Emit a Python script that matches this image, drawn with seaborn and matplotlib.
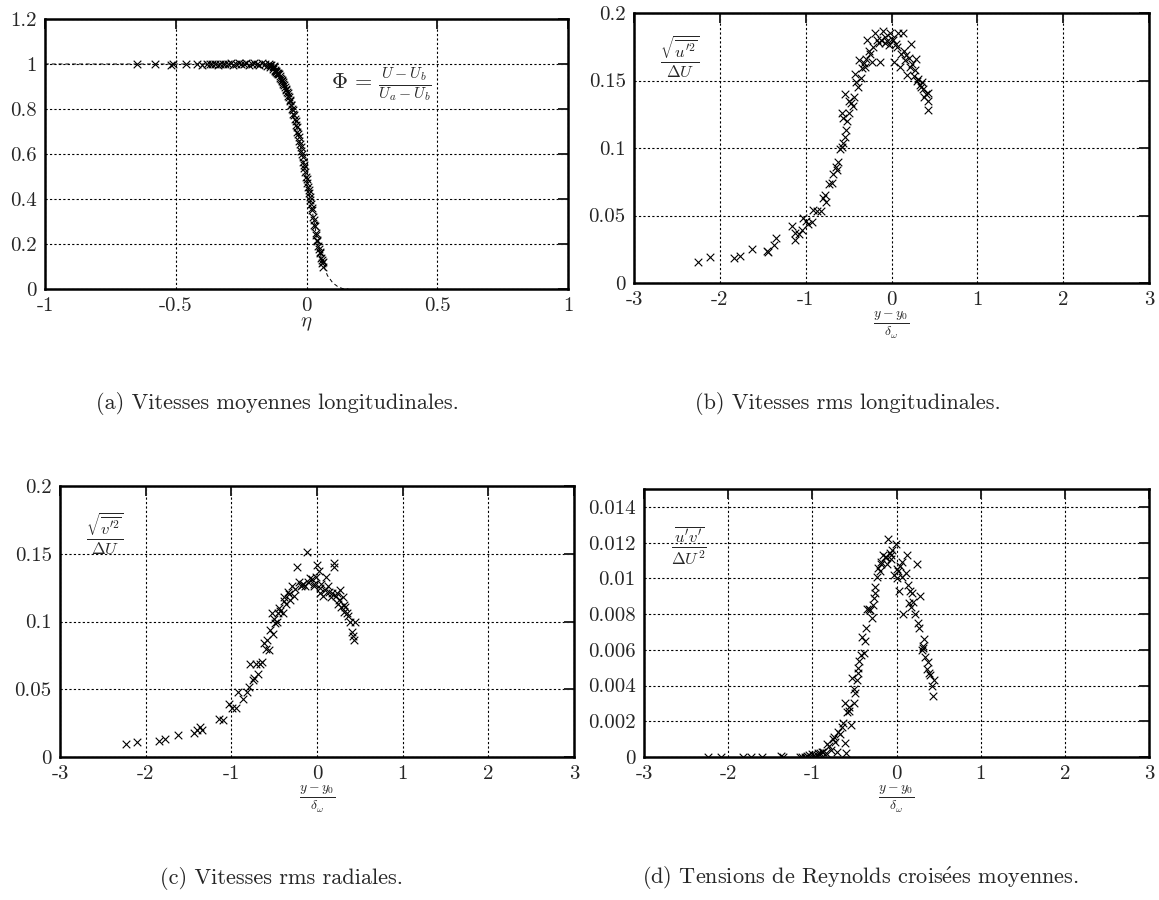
import numpy as np
import pandas as pd
import matplotlib
matplotlib.use("Agg")
import matplotlib.pyplot as plt
import seaborn as sns

sns.set_style("white")
plt.rcParams['font.family'] = ['cmr10', 'DejaVu Serif']
plt.rcParams['mathtext.fontset'] = 'cm'
plt.rcParams['axes.unicode_minus'] = False

# ---------------- data ----------------
# (a) mean longitudinal velocity
eta_pts = [-0.65, -0.58, -0.52, -0.51, -0.46, -0.42, -0.40, -0.38, -0.37, -0.36,
           -0.35, -0.34, -0.33, -0.32, -0.31, -0.30, -0.29, -0.28, -0.27, -0.26,
           -0.25, -0.24, -0.23, -0.22, -0.21, -0.20, -0.19, -0.18, -0.17, -0.16,
           -0.15, -0.145, -0.14, -0.135, -0.13, -0.125,
           -0.12, -0.115, -0.11, -0.105, -0.10, -0.095, -0.09, -0.085, -0.08, -0.075,
           -0.07, -0.065, -0.06, -0.055, -0.05, -0.045, -0.04, -0.035, -0.03, -0.025,
           -0.02, -0.015, -0.01, -0.005, 0.0, 0.005, 0.01, 0.015, 0.02, 0.025,
           0.03, 0.035, 0.04, 0.045, 0.05, 0.055, 0.06, 0.065,
           -0.125, -0.118, -0.108, -0.098, -0.088, -0.078, -0.068, -0.058, -0.048, -0.038,
           -0.028, -0.018, -0.008, 0.002, 0.012, 0.022, 0.032, 0.042, 0.052, 0.062,
           -0.14, -0.13, -0.12, -0.112, -0.102, -0.092, -0.082, -0.072, -0.062, -0.052,
           -0.042, -0.032, -0.022, -0.012, -0.002, 0.008, 0.018, 0.028, 0.038, 0.048, 0.058]
phi_pts = [1.0, 1.0, 0.995, 1.0, 1.0, 1.0, 0.995, 1.0, 1.0, 0.998,
           1.0, 0.995, 1.0, 1.0, 0.998, 1.0, 1.005, 0.995, 1.0, 1.005,
           0.998, 1.0, 1.005, 0.995, 1.0, 1.005, 1.0, 0.995, 1.005, 0.998,
           0.99, 1.0, 0.985, 0.995, 0.98, 0.99,
           0.975, 0.965, 0.96, 0.955, 0.94, 0.93, 0.92, 0.905, 0.89, 0.875,
           0.86, 0.84, 0.82, 0.80, 0.78, 0.755, 0.73, 0.70, 0.675, 0.645,
           0.615, 0.585, 0.55, 0.52, 0.49, 0.455, 0.425, 0.395, 0.36, 0.32,
           0.285, 0.25, 0.22, 0.19, 0.165, 0.14, 0.115, 0.10,
           0.985, 0.97, 0.955, 0.935, 0.91, 0.885, 0.855, 0.82, 0.775, 0.72,
           0.66, 0.60, 0.54, 0.47, 0.41, 0.35, 0.28, 0.215, 0.16, 0.12,
           0.995, 0.985, 0.97, 0.96, 0.945, 0.925, 0.90, 0.87, 0.835, 0.795,
           0.745, 0.69, 0.63, 0.565, 0.50, 0.44, 0.38, 0.305, 0.24, 0.18, 0.13]
eta_fit = [-1.0, -0.5, -0.25, -0.2, -0.15, -0.12, -0.10, -0.08, -0.06, -0.04, -0.02,
           0.0, 0.02, 0.04, 0.06, 0.08, 0.10, 0.12, 0.14, 0.16]
phi_fit = [1.0, 1.0, 1.0, 0.998, 0.99, 0.975, 0.945, 0.90, 0.83, 0.735, 0.615,
           0.49, 0.36, 0.225, 0.12, 0.06, 0.028, 0.01, 0.001, 0.0]

# (b) rms longitudinal
xb = [-2.26, -2.12, -1.84, -1.77, -1.63, -1.45, -1.44, -1.37, -1.34, -1.16,
      -1.13, -1.12, -1.08, -1.04, -1.03, -1.00, -0.97, -0.93, -0.91, -0.87,
      -0.82, -0.80, -0.78, -0.76, -0.73, -0.69, -0.68, -0.65, -0.63, -0.60,
      -0.58, -0.58, -0.56, -0.54, -0.53, -0.54, -0.52, -0.50, -0.47, -0.45,
      -0.43, -0.41, -0.39, -0.38, -0.34, -0.32, -0.30, -0.28, -0.26, -0.23,
      -0.21, -0.19, -0.17, -0.135, -0.10, -0.08, -0.05, -0.02, 0.0, 0.03,
      0.05, 0.08, 0.10, 0.13, 0.14, 0.17, 0.18, 0.20, 0.23, 0.24,
      0.27, 0.29, 0.31, 0.33, 0.35, 0.37, 0.40, 0.42, 0.43, 0.42,
      -0.62, -0.57, -0.49, -0.44, -0.36, -0.31, -0.25, -0.15, -0.12, -0.07,
      -0.03, 0.02, 0.06, 0.11, 0.16, 0.21, 0.26, 0.30, 0.34, 0.38]
yb = [0.0155, 0.019, 0.0185, 0.020, 0.025, 0.024, 0.023, 0.028, 0.033, 0.042,
      0.037, 0.032, 0.036, 0.039, 0.048, 0.046, 0.044, 0.045, 0.054, 0.053,
      0.053, 0.063, 0.065, 0.060, 0.073, 0.074, 0.081, 0.086, 0.084, 0.099,
      0.101, 0.126, 0.122, 0.108, 0.113, 0.140, 0.120, 0.135, 0.133, 0.131,
      0.155, 0.149, 0.145, 0.165, 0.159, 0.163, 0.166, 0.180, 0.172, 0.164,
      0.175, 0.185, 0.180, 0.164, 0.187, 0.182, 0.179, 0.185, 0.181, 0.164,
      0.177, 0.185, 0.160, 0.185, 0.172, 0.169, 0.154, 0.167, 0.177, 0.162,
      0.158, 0.166, 0.151, 0.147, 0.149, 0.144, 0.140, 0.135, 0.141, 0.128,
      0.090, 0.104, 0.126, 0.138, 0.152, 0.160, 0.170, 0.178, 0.180, 0.178,
      0.176, 0.180, 0.175, 0.170, 0.165, 0.160, 0.153, 0.150, 0.145, 0.138]

# (c) rms radial
xc = [-2.23, -2.10, -1.84, -1.77, -1.62, -1.44, -1.40, -1.36, -1.34, -1.14,
      -1.10, -1.03, -0.99, -0.95, -0.92, -0.86, -0.82, -0.79, -0.785, -0.75,
      -0.73, -0.71, -0.69, -0.66, -0.64, -0.62, -0.60, -0.58, -0.56, -0.53,
      -0.51, -0.49, -0.47, -0.45, -0.43, -0.40, -0.38, -0.36, -0.34, -0.32,
      -0.29, -0.27, -0.23, -0.21, -0.19, -0.16, -0.12, -0.10, -0.08, -0.06,
      -0.03, -0.01, 0.0, 0.02, 0.03, 0.05, 0.07, 0.11, 0.14, 0.16,
      0.195, 0.20, 0.23, 0.25, 0.27, 0.28, 0.30, 0.31, 0.33, 0.36,
      0.38, 0.41, 0.42, 0.43, 0.44,
      -0.55, -0.50, -0.44, -0.39, -0.33, -0.26, -0.18, -0.14, -0.04, 0.04,
      0.09, 0.13, 0.18, 0.22, 0.26, 0.32, 0.35]
yc = [0.0099, 0.011, 0.012, 0.0135, 0.016, 0.018, 0.020, 0.022, 0.020, 0.028,
      0.027, 0.039, 0.036, 0.036, 0.048, 0.043, 0.048, 0.052, 0.069, 0.057,
      0.058, 0.069, 0.061, 0.069, 0.070, 0.084, 0.080, 0.086, 0.079, 0.106,
      0.091, 0.099, 0.100, 0.106, 0.108, 0.106, 0.118, 0.113, 0.122, 0.116,
      0.126, 0.119, 0.140, 0.129, 0.126, 0.128, 0.151, 0.129, 0.132, 0.131,
      0.126, 0.133, 0.142, 0.137, 0.121, 0.128, 0.119, 0.133, 0.122, 0.118,
      0.143, 0.140, 0.121, 0.113, 0.123, 0.111, 0.118, 0.107, 0.111, 0.104,
      0.100, 0.092, 0.089, 0.086, 0.100,
      0.094, 0.102, 0.110, 0.115, 0.120, 0.124, 0.127, 0.126, 0.128, 0.125,
      0.123, 0.126, 0.121, 0.119, 0.116, 0.112, 0.106]

# (d) Reynolds shear stress
xd = [-2.24, -2.09, -1.82, -1.73, -1.60, -1.37, -1.35, -1.15, -1.09, -1.04,
      -1.00, -0.95, -0.91, -0.87, -0.84, -0.80, -0.78, -0.76, -0.73, -0.71,
      -0.69, -0.67, -0.65, -0.61, -0.60, -0.61, -0.59, -0.57, -0.54, -0.51,
      -0.53, -0.50, -0.49, -0.47, -0.455, -0.44, -0.41, -0.39, -0.38, -0.36,
      -0.35, -0.32, -0.29, -0.28, -0.26, -0.25, -0.23, -0.22, -0.20, -0.18,
      -0.16, -0.14, -0.11, -0.10, -0.08, -0.07, -0.05, -0.03, -0.01, 0.0,
      0.01, 0.03, 0.04, 0.06, 0.08, 0.11, 0.13, 0.14, 0.15, 0.17,
      0.19, 0.22, 0.24, 0.25, 0.27, 0.28, 0.30, 0.31, 0.33, 0.34,
      0.36, 0.37, 0.39, 0.42, 0.44, 0.43,
      -1.12, -1.06, -0.98, -0.93, -0.89, -0.82, -0.74, -0.63, -0.56, -0.46,
      -0.42, -0.33, -0.27, -0.19, -0.13, -0.06, 0.02, 0.07, 0.16, 0.20, 0.32, 0.40]
yd = [0.0, 0.0, 0.0, 0.0, 0.0, 0.00004, 0.0, 0.0, 0.0, 0.0001,
      0.00015, 0.0001, 0.0002, 0.0003, 0.0002, 0.0006, 0.0004, 0.0010, 0.00085, 0.0003,
      0.0014, 0.0013, 0.0017, 0.0008, 0.0002, 0.0030, 0.0025, 0.0028, 0.0018, 0.0030,
      0.0044, 0.0038, 0.0036, 0.0043, 0.0050, 0.0054, 0.0067, 0.0058, 0.0065, 0.0072,
      0.0083, 0.0082, 0.0078, 0.0085, 0.0092, 0.0095, 0.0101, 0.0106, 0.0104, 0.0109,
      0.0113, 0.0112, 0.0108, 0.0122, 0.0114, 0.0111, 0.0116, 0.0102, 0.0119, 0.0105,
      0.0100, 0.0093, 0.0107, 0.0109, 0.0080, 0.0103, 0.0113, 0.0096, 0.0086, 0.0084,
      0.0092, 0.0080, 0.0108, 0.0075, 0.0072, 0.0090, 0.0060, 0.0062, 0.0066, 0.0056,
      0.0049, 0.0053, 0.0047, 0.0040, 0.0043, 0.0034,
      0.0, 0.00005, 0.0001, 0.0002, 0.0003, 0.0007, 0.0011, 0.0019, 0.0026, 0.0047,
      0.0057, 0.0083, 0.0089, 0.0108, 0.0112, 0.0113, 0.0104, 0.0101, 0.0093, 0.0087,
      0.0061, 0.0046]

xticks_a = [-1, -0.5, 0, 0.5, 1]
xticklabels_a = ['-1', '-0.5', '0', '0.5', '1']
yticks_a = [0, 0.2, 0.4, 0.6, 0.8, 1.0, 1.2]
yticklabels_a = ['0', '0.2', '0.4', '0.6', '0.8', '1', '1.2']
xticks_b = [-3, -2, -1, 0, 1, 2, 3]
xticklabels_b = ['-3', '-2', '-1', '0', '1', '2', '3']
yticks_bc = [0, 0.05, 0.1, 0.15, 0.2]
yticklabels_bc = ['0', '0.05', '0.1', '0.15', '0.2']
yticks_d = [0, 0.002, 0.004, 0.006, 0.008, 0.01, 0.012, 0.014]
yticklabels_d = ['0', '0.002', '0.004', '0.006', '0.008', '0.01', '0.012', '0.014']

W, H = 1159, 900
fig = plt.figure(figsize=(W / 100, H / 100), dpi=100)


def px_axes(x0, x1, ytop, ybot):
    return fig.add_axes([x0 / W, 1 - ybot / H, (x1 - x0) / W, (ybot - ytop) / H])


def style(ax, xt, xtl, yt, ytl, xlim, ylim):
    ax.set_xlim(*xlim)
    ax.set_ylim(*ylim)
    ax.set_xticks(xt)
    ax.set_xticklabels(xtl)
    ax.set_yticks(yt)
    ax.set_yticklabels(ytl)
    ax.grid(True, color='black', linestyle=(0, (2, 2)), linewidth=0.8)
    ax.tick_params(direction='in', length=7, width=1.4, top=True, right=True,
                   labelsize=15)
    ax.tick_params(axis='x', pad=6)
    ax.tick_params(axis='y', pad=6)
    for s in ax.spines.values():
        s.set_linewidth(1.8)
        s.set_color('black')
    ax.set_ylabel('')


def scatter(ax, x, y):
    df = pd.DataFrame({'x': x, 'y': y})
    sns.scatterplot(data=df, x='x', y='y', marker='x', color='black', s=30,
                    linewidth=0.8, ax=ax, zorder=3)


frac_lbl = r'$\frac{y-y_0}{\delta_\omega}$'

# (a)
ax = px_axes(45, 568, 19, 289)
fit = pd.DataFrame({'eta': eta_fit, 'phi': phi_fit})
sns.lineplot(data=fit, x='eta', y='phi', color='black', linestyle=(0, (4, 3)),
             linewidth=0.7, estimator=None, sort=False, ax=ax)
scatter(ax, eta_pts, phi_pts)
style(ax, xticks_a, xticklabels_a, yticks_a, yticklabels_a, (-1, 1), (0, 1.2))
ax.set_xlabel(r'$\eta$', fontsize=15, labelpad=0)
ax.text(0.095, 0.905, r'$\Phi\,=\,\frac{U-U_b}{U_a-U_b}$', fontsize=16, va='center')

# (b)
ax = px_axes(634, 1149, 13, 283)
scatter(ax, xb, yb)
style(ax, xticks_b, xticklabels_b, yticks_bc, yticklabels_bc, (-3, 3), (0, 0.2))
ax.set_xlabel(frac_lbl, fontsize=14, labelpad=0)
ax.text(-2.70, 0.168, r'$\frac{\sqrt{\overline{u^{\prime 2}}}}{\Delta U}$', fontsize=17, va='center')

# (c)
ax = px_axes(60, 574, 486, 757)
scatter(ax, xc, yc)
style(ax, xticks_b, xticklabels_b, yticks_bc, yticklabels_bc, (-3, 3), (0, 0.2))
ax.set_xlabel(frac_lbl, fontsize=14, labelpad=0)
ax.text(-2.70, 0.165, r'$\frac{\sqrt{\overline{v^{\prime 2}}}}{\Delta U}$', fontsize=17, va='center')

# (d)
ax = px_axes(644, 1149, 489, 757)
scatter(ax, xd, yd)
style(ax, xticks_b, xticklabels_b, yticks_d, yticklabels_d, (-3, 3), (0, 0.015))
ax.set_xlabel(frac_lbl, fontsize=14, labelpad=0)
ax.text(-2.68, 0.0118, r'$\frac{\overline{u^\prime v^\prime}}{\Delta U^2}$', fontsize=17, va='center')

# captions
caps = [(277, 403, '(a) Vitesses moyennes longitudinales.'),
        (848, 403, '(b) Vitesses rms longitudinales.'),
        (282, 878, '(c) Vitesses rms radiales.'),
        (860, 878, r'(d) Tensions de Reynolds crois$\acute{\mathrm{e}}$es moyennes.')]
for x, y, t in caps:
    fig.text(x / W, 1 - y / H, t, fontsize=16, ha='center', va='center')

fig.savefig('out.png', dpi=100)
